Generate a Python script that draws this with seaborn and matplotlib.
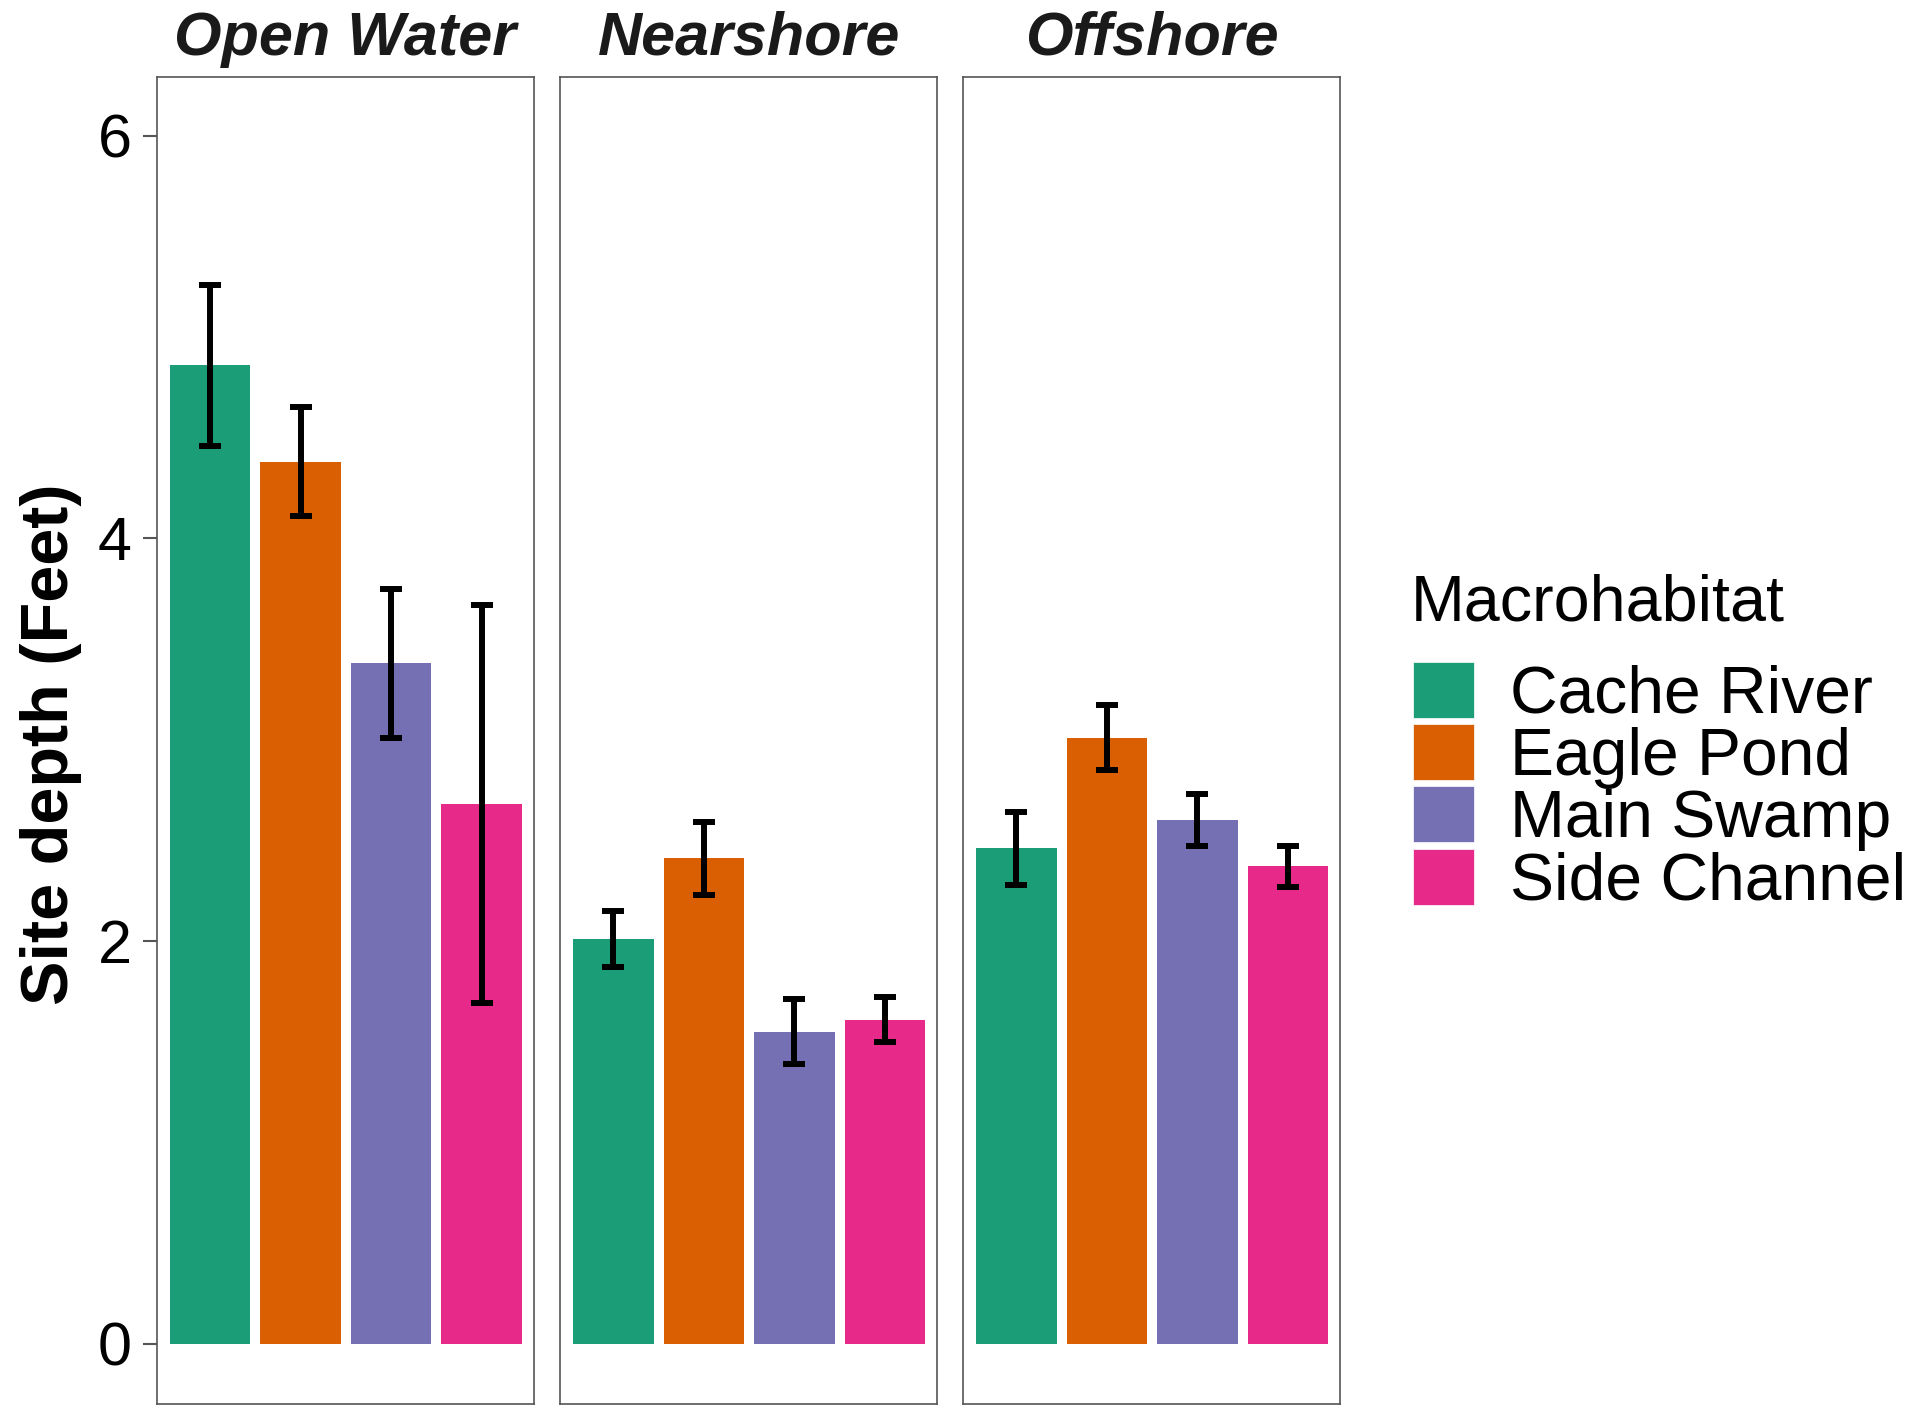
import pandas as pd
import matplotlib
matplotlib.use("Agg")
import matplotlib.pyplot as plt
from matplotlib.patches import Patch
import seaborn as sns

# values
zones = ["Open Water", "Nearshore", "Offshore"]
sites = ["Cache River", "Eagle Pond", "Main Swamp", "Side Channel"]
open_water = [4.86, 4.38, 3.38, 2.68]
open_water_se = [0.40, 0.27, 0.37, 0.99]
nearshore = [2.01, 2.41, 1.55, 1.61]
nearshore_se = [0.14, 0.18, 0.16, 0.11]
offshore = [2.46, 3.01, 2.60, 2.37]
offshore_se = [0.18, 0.16, 0.13, 0.10]
colors = ["#1B9E77", "#D95F02", "#7570B3", "#E7298A"]

df = pd.DataFrame({
    "zone": [z for z in zones for _ in sites],
    "site": sites * 3,
    "depth": open_water + nearshore + offshore,
    "se": open_water_se + nearshore_se + offshore_se,
})

sns.set_style("white")
plt.rcParams["font.family"] = ["Liberation Sans", "DejaVu Sans"]
plt.rcParams["text.color"] = "black"

fig = plt.figure(figsize=(19.21, 14.09), dpi=100)
lefts = [0.0816, 0.2915, 0.5013]
axes = [fig.add_axes([l, 0.0035, 0.1964, 0.9417]) for l in lefts]

for ax, zone in zip(axes, zones):
    sub = df[df["zone"] == zone]
    sns.barplot(data=sub, x="site", y="depth", hue="site", order=sites,
                hue_order=sites, palette=colors, saturation=1, width=0.89,
                errorbar=None, linewidth=0, legend=False, ax=ax)
    ax.errorbar(sub["site"], sub["depth"], yerr=sub["se"], fmt="none",
                ecolor="black", elinewidth=4.3, capsize=8, capthick=4.3)
    ax.set_xlim(-0.59, 3.58)
    ax.set_ylim(-0.3, 6.29)
    ax.set_xlabel("")
    ax.set_ylabel("")
    ax.set_xticks([])
    ax.set_title(zone, fontsize=44, fontweight="bold", fontstyle="italic",
                 color="#1a1a1a", pad=16)
    for s in ax.spines.values():
        s.set_visible(True)
        s.set_color("#555555")
        s.set_linewidth(1.2)

axes[0].set_yticks([0, 2, 4, 6])
axes[0].tick_params(axis="y", left=True, length=10, width=1.5, color="#555555",
                    labelsize=44, labelcolor="black", pad=8)
for ax in axes[1:]:
    ax.set_yticks([])

fig.text(0.0265, 0.472, "Site depth (Feet)", rotation=90, fontsize=48,
         fontweight="bold", ha="center", va="center", color="black")

fig.text(0.7345, 0.572, "Macrohabitat", fontsize=46.5, ha="left", va="center",
         color="black")
handles = [Patch(facecolor=c, edgecolor="white", linewidth=0.5) for c in colors]
leg = fig.legend(handles, sites, loc="upper left",
                 bbox_to_anchor=(0.7355, 0.53), frameon=False, fontsize=47.5,
                 handlelength=0.93, handleheight=0.93, borderaxespad=0,
                 handletextpad=0.54, labelspacing=-0.04, borderpad=0)
for t in leg.get_texts():
    t.set_color("black")

fig.savefig("out.png", dpi=100)
